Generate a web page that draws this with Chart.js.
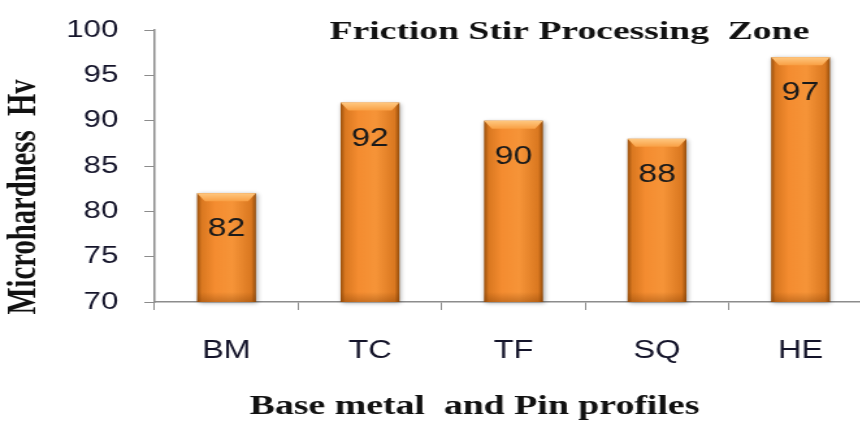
<!DOCTYPE html>
<html>
<head>
<meta charset="utf-8">
<script src="https://cdn.jsdelivr.net/npm/chart.js@4.4.1/dist/chart.umd.min.js"></script>
<style>
  html, body { margin: 0; padding: 0; background: #fff; overflow: hidden; }
  #wrap { width: 860px; height: 422px; overflow: hidden; }
  #box { width: 672px; height: 422px; transform: scaleX(1.3); transform-origin: 0 0; }
</style>
</head>
<body>
<div id="wrap"><div id="box"><canvas id="barchart" width="672" height="422"></canvas></div></div>
<script>
const profiles = ["BM", "TC", "TF", "SQ", "HE"];
const hardness = [82, 92, 90, 88, 97];
const yMin = 70, yMax = 100, yStep = 5;

const chartTitle = "Friction Stir Processing  Zone";
const yTitle = "Microhardness  Hv";
const xTitle = "Base metal  and Pin profiles";

// draws text squeezed/stretched to a given width
function fitText(ctx, txt, cx, cy, w, font, rot) {
  ctx.save();
  ctx.font = font;
  ctx.fillStyle = "#111";
  ctx.textAlign = "center";
  ctx.textBaseline = "middle";
  ctx.translate(cx, cy);
  if (rot) ctx.rotate(rot);
  const k = w / ctx.measureText(txt).width;
  ctx.scale(k, 1);
  ctx.fillText(txt, 0, 0);
  ctx.restore();
}

const bevelBars = {
  id: "bevelBars",
  afterDatasetsDraw(chart) {
    const ctx = chart.ctx;
    const meta = chart.getDatasetMeta(0);
    meta.data.forEach((bar, i) => {
      const p = bar.getProps(["x", "y", "base", "width"], true);
      const l = p.x - p.width / 2, r = p.x + p.width / 2;
      const t = p.y, b = Math.min(p.base, chart.chartArea.bottom);
      ctx.save();
      // shadow
      ctx.shadowColor = "rgba(0,0,0,0.35)";
      ctx.shadowBlur = 4;
      ctx.shadowOffsetX = 1;
      ctx.shadowOffsetY = 1;
      let g = ctx.createLinearGradient(l, 0, r, 0);
      g.addColorStop(0, "#9a500c");
      g.addColorStop(0.08, "#da7820");
      g.addColorStop(0.3, "#f48c30");
      g.addColorStop(0.6, "#f69438");
      g.addColorStop(0.92, "#da7820");
      g.addColorStop(1, "#944c0a");
      ctx.fillStyle = g;
      ctx.fillRect(l, t, r - l, b - t);
      ctx.restore();
      // bottom darkening
      ctx.save();
      let gb = ctx.createLinearGradient(0, b - 10, 0, b);
      gb.addColorStop(0, "rgba(120,55,0,0)");
      gb.addColorStop(1, "rgba(120,55,0,0.35)");
      ctx.fillStyle = gb;
      ctx.fillRect(l, b - 10, r - l, 10);
      // top bevel
      const bh = 8, bw = 6;
      let gt = ctx.createLinearGradient(0, t, 0, t + bh);
      gt.addColorStop(0, "#ffc880");
      gt.addColorStop(1, "#f9a044");
      ctx.fillStyle = gt;
      ctx.beginPath();
      ctx.moveTo(l, t);
      ctx.lineTo(r, t);
      ctx.lineTo(r - bw, t + bh);
      ctx.lineTo(l + bw, t + bh);
      ctx.closePath();
      ctx.fill();
      // value label
      ctx.font = "26px 'Liberation Sans', Arial, sans-serif";
      ctx.fillStyle = "#1a1a1a";
      ctx.textAlign = "center";
      ctx.textBaseline = "middle";
      ctx.fillText(String(hardness[i]), p.x, t + 36);
      ctx.restore();
    });
  },
  afterDraw(chart) {
    const ctx = chart.ctx;
    fitText(ctx, chartTitle, 438, 32, 369, "bold 26px 'Liberation Serif', 'Times New Roman', serif");
    fitText(ctx, yTitle, 19, 197, 235, "bold 31px 'Liberation Serif', 'Times New Roman', serif", -Math.PI / 2);
    fitText(ctx, xTitle, 365, 407, 346, "bold 27px 'Liberation Serif', 'Times New Roman', serif");
  }
};

const ctxBar = document.getElementById("barchart").getContext("2d");
const barChart = new Chart(ctxBar, {
  type: "bar",
  data: {
    labels: profiles,
    datasets: [{
      label: "Microhardness",
      data: hardness,
      backgroundColor: "rgba(0,0,0,0)",
      borderWidth: 0,
      barPercentage: 0.41,
      categoryPercentage: 1
    }]
  },
  options: {
    responsive: false,
    animation: false,
    devicePixelRatio: 1,
    layout: { padding: { left: 50, right: 1, top: 30, bottom: 0 } },
    plugins: {
      legend: { display: false },
      tooltip: { enabled: false }
    },
    scales: {
      x: {
        afterFit: function(s) { s.height = 120; },
        grid: { display: true, drawOnChartArea: false, tickLength: 8, color: "#8c8c8c", offset: true },
        border: { color: "#8c8c8c", width: 1.5 },
        ticks: {
          padding: 26,
          color: "#14142a",
          font: { family: "'Liberation Sans', Arial, sans-serif", size: 25 }
        }
      },
      y: {
        min: yMin,
        max: yMax,
        afterFit: function(s) { s.width = 69; s.paddingTop = 0; s.paddingBottom = 0; },
        grid: { display: true, drawOnChartArea: false, tickLength: 8, color: "#8c8c8c" },
        border: { color: "#8c8c8c", width: 1.5 },
        ticks: {
          stepSize: yStep,
          padding: 20,
          color: "#14142a",
          font: { family: "'Liberation Sans', Arial, sans-serif", size: 24 }
        }
      }
    }
  },
  plugins: [bevelBars]
});
</script>
</body>
</html>
